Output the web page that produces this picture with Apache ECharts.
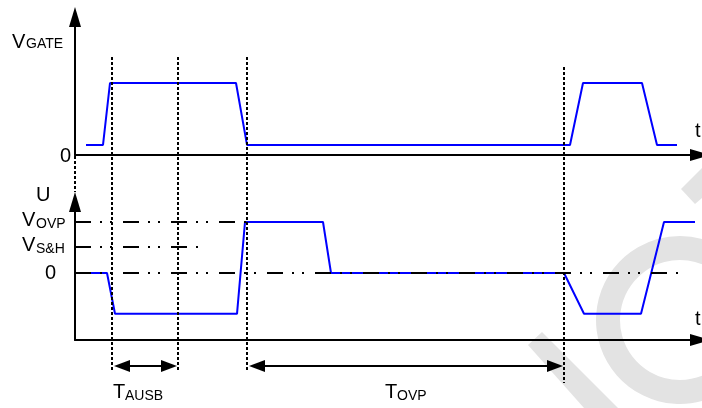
<!DOCTYPE html>
<html><head><meta charset="utf-8">
<script src="https://cdn.jsdelivr.net/npm/echarts@6/dist/echarts.min.js"></script>
<style>html,body{margin:0;padding:0;background:#fff}#c{width:702px;height:408px}</style>
</head><body><div id="c"></div>
<script>
// ---- data (time in arbitrary units, levels in arbitrary units) ----
const gateT = [11, 28, 35, 161, 172, 495, 508, 567, 582, 602];
const gateV = [0.14, 0.14, 1, 1, 0.14, 0.14, 1, 1, 0.14, 0.14];
const uT = [0, 32, 40, 162, 170, 248, 256, 489, 509, 566, 589, 620];
const uV = [0, 0, -0.8, -0.8, 1, 1, 0, 0, -0.8, -0.8, 1, 1];
const levelMain = ['V', 'V', '0'];
const levelSub = ['OVP', 'S&H', ''];
const levelValues = [1, 0.51, 0];
const levelEnds = [172, 125, 605];
const markTimes = [37, 103, 172, 489];
const spanSub = ['AUSB', 'OVP'];
const spanStart = [37, 172];
const spanEnd = [103, 489];

const FONT = '"Liberation Sans", Arial, sans-serif';
const axisCommon = {
  axisTick: {show: false}, axisLabel: {show: false}, splitLine: {show: false},
  axisLine: {show: true, onZero: false, symbol: ['none', 'triangle'], symbolSize: [12, 20],
    lineStyle: {color: '#000', width: 2}}
};
const option = {
  animation: false,
  grid: [
    {left: 75, width: 625, top: 17, height: 138},
    {left: 75, width: 625, top: 202, height: 138}
  ],
  xAxis: [
    Object.assign({type: 'value', gridIndex: 0, min: 0, max: 625}, axisCommon),
    Object.assign({type: 'value', gridIndex: 1, min: 0, max: 625}, axisCommon)
  ],
  yAxis: [
    Object.assign({type: 'value', gridIndex: 0, min: 0, max: 138 / 72}, axisCommon),
    Object.assign({type: 'value', gridIndex: 1, min: -67 / 51, max: 71 / 51}, axisCommon)
  ],
  series: [
    {type: 'line', xAxisIndex: 0, yAxisIndex: 0, symbol: 'none', z: 2,
      lineStyle: {color: '#0000ff', width: 2},
      data: gateT.map((t, i) => [t, gateV[i]])},
    {type: 'line', xAxisIndex: 1, yAxisIndex: 1, symbol: 'none', z: 2,
      lineStyle: {color: '#0000ff', width: 2},
      data: uT.map((t, i) => [t, uV[i]]),
      markLine: {silent: true, symbol: ['none', 'none'], label: {show: false}, z: 5,
        lineStyle: {color: '#000', width: 2, type: [16, 9, 2, 8, 2, 11]},
        data: levelValues.map((v, i) => [{coord: [0, v]}, {coord: [levelEnds[i], v]}])}}
  ]
};
const chart = echarts.init(document.getElementById('c'));
chart.setOption(option);

const pxT = t => chart.convertToPixel({xAxisIndex: 1}, t);
const pyU = v => chart.convertToPixel({yAxisIndex: 1}, v);
const g = [];
// watermark
const WM = '#e3e3e3';
g.push({type: 'sector', z: -10, shape: {cx: 680, cy: 320, r: 84, r0: 60, startAngle: Math.PI / 3, endAngle: Math.PI * 5 / 3, clockwise: true}, style: {fill: WM}});
g.push({type: 'polygon', z: -10, shape: {points: [[528, 345], [542, 332], [618, 408], [584, 408]]}, style: {fill: WM}});
g.push({type: 'polygon', z: -10, shape: {points: [[681, 189], [702, 168], [702, 198], [695, 204]]}, style: {fill: WM}});

// vertical dotted markers
const dot = {stroke: '#000', lineWidth: 2, lineDash: [3, 2]};
markTimes.forEach((t, i) => {
  const x = Math.round(pxT(t));
  const y1 = i === 3 ? 67 : 57, y2 = i === 3 ? 383 : 372;
  g.push({type: 'line', z: 20, shape: {x1: x, y1: y1, x2: x, y2: y2}, style: dot});
});
g.push({type: 'line', z: 20, shape: {x1: 75, y1: 156, x2: 75, y2: 192}, style: dot});

// span arrows
const ay = 366;
spanStart.forEach((s, i) => {
  const x1 = pxT(s) + 2, x2 = pxT(spanEnd[i]) - 1;
  g.push({type: 'line', z: 20, shape: {x1: x1 + 8, y1: ay, x2: x2 - 8, y2: ay}, style: {stroke: '#000', lineWidth: 2}});
  g.push({type: 'polygon', z: 20, shape: {points: [[x1, ay], [x1 + 16, ay - 6], [x1 + 16, ay + 6]]}, style: {fill: '#000'}});
  g.push({type: 'polygon', z: 20, shape: {points: [[x2, ay], [x2 - 16, ay - 6], [x2 - 16, ay + 6]]}, style: {fill: '#000'}});
});

// texts
function txt(s, x, y, size) {
  g.push({type: 'text', z: 30, x: x, y: y, style: {text: s, fill: '#000', fontSize: size, fontFamily: FONT, align: 'left', verticalAlign: 'middle'}});
}
txt('V', 12, 42, 20); txt('GATE', 26, 44, 14);
txt('0', 60, 156, 20);
txt('t', 695, 131, 20);
txt('U', 36, 195, 20);
levelValues.forEach((v, i) => {
  const y = pyU(v);
  if (levelSub[i]) { txt(levelMain[i], 22, y - 2, 20); txt(levelSub[i], 36, y + 2, 14); }
  else txt(levelMain[i], 45, y, 20);
});
txt('t', 695, 319, 20);
const spanX = [113, 385];
spanSub.forEach((s, i) => { txt('T', spanX[i], 392, 20); txt(s, spanX[i] + 12, 396, 14); });

chart.setOption({graphic: g});
</script></body></html>
